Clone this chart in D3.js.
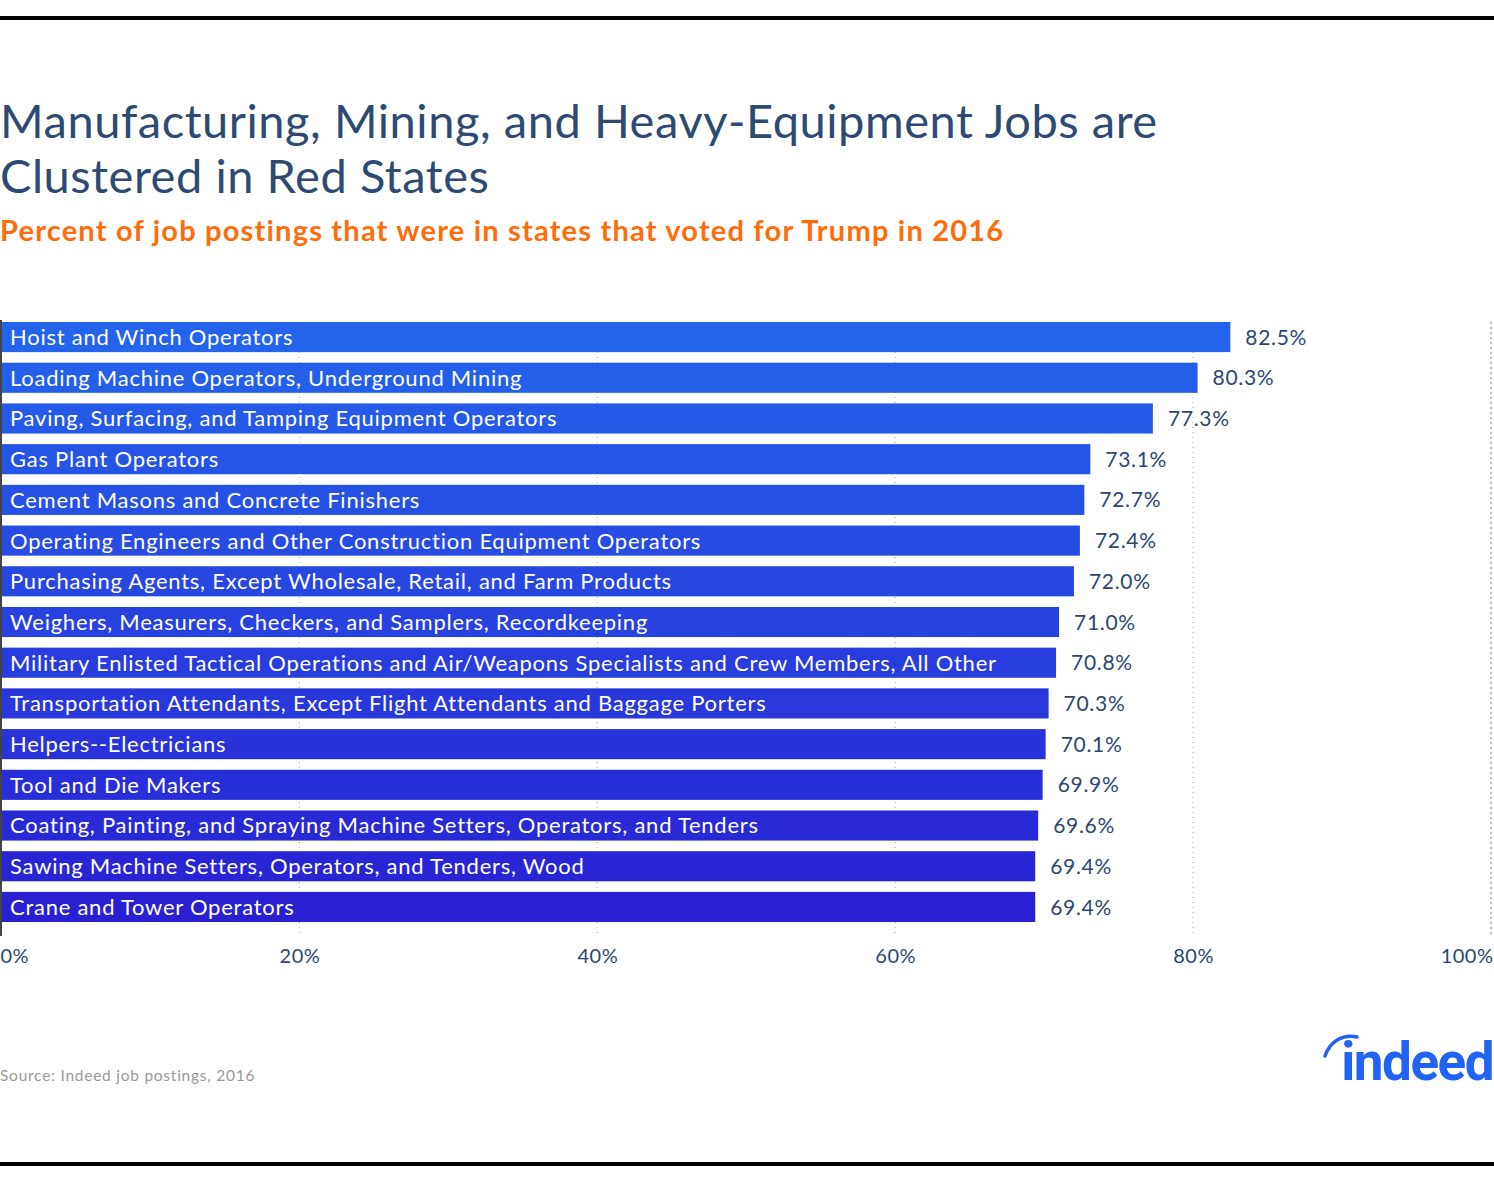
<!DOCTYPE html>
<html><head><meta charset="utf-8">
<script src="https://cdn.jsdelivr.net/npm/d3@7"></script>
<style>body{margin:0;background:#fff;}svg{display:block;}</style>
</head><body>
<script>
const categories = [
  "Hoist and Winch Operators",
  "Loading Machine Operators, Underground Mining",
  "Paving, Surfacing, and Tamping Equipment Operators",
  "Gas Plant Operators",
  "Cement Masons and Concrete Finishers",
  "Operating Engineers and Other Construction Equipment Operators",
  "Purchasing Agents, Except Wholesale, Retail, and Farm Products",
  "Weighers, Measurers, Checkers, and Samplers, Recordkeeping",
  "Military Enlisted Tactical Operations and Air/Weapons Specialists and Crew Members, All Other",
  "Transportation Attendants, Except Flight Attendants and Baggage Porters",
  "Helpers--Electricians",
  "Tool and Die Makers",
  "Coating, Painting, and Spraying Machine Setters, Operators, and Tenders",
  "Sawing Machine Setters, Operators, and Tenders, Wood",
  "Crane and Tower Operators"
];
const values = [82.5, 80.3, 77.3, 73.1, 72.7, 72.4, 72.0, 71.0, 70.8, 70.3, 70.1, 69.9, 69.6, 69.4, 69.4];
const tickValues = [0, 20, 40, 60, 80, 100];
const tickLabels = ["0%", "20%", "40%", "60%", "80%", "100%"];

const W = 1494, H = 1183;
const svg = d3.select("body").append("svg").attr("width", W).attr("height", H);
const font = "Lato, 'Noto Sans', sans-serif";
const navy = "#2c4670";

// frame lines
svg.append("rect").attr("x",0).attr("y",16).attr("width",W).attr("height",4).attr("fill","#000");
svg.append("rect").attr("x",0).attr("y",1162).attr("width",W).attr("height",4).attr("fill","#000");

// titles
svg.append("text").attr("x",0).attr("y",138).attr("font-family",font).attr("font-size",47).attr("font-weight",400)
  .attr("letter-spacing",0.55).attr("fill","#2e4a72").text("Manufacturing, Mining, and Heavy-Equipment Jobs are");
svg.append("text").attr("x",0).attr("y",193).attr("font-family",font).attr("font-size",47).attr("font-weight",400)
  .attr("letter-spacing",0.55).attr("fill","#2e4a72").text("Clustered in Red States");
svg.append("text").attr("x",0).attr("y",241).attr("font-family",font).attr("font-size",29).attr("font-weight",700)
  .attr("letter-spacing",1.2).attr("fill","#ff6c0a").text("Percent of job postings that were in states that voted for Trump in 2016");

const x = d3.scaleLinear().domain([0, 100]).range([1.5, 1491]);
const y = d3.scaleBand().domain(categories).range([316.7, 927.3]).paddingInner(0.26).paddingOuter(0.13);
const color = d3.interpolateRgb("#2464ec", "#2a20d2");

// gridlines
const grid = svg.append("g");
grid.selectAll("line").data(tickValues.filter(d => d > 0)).join("line")
  .attr("x1", d => x(d)).attr("x2", d => x(d))
  .attr("y1", 322).attr("y2", 936)
  .attr("stroke", "#b8b8b8")
  .attr("stroke-width", d => d === 100 ? 2 : 1.2)
  .attr("stroke-dasharray", d => d === 100 ? "2,3" : "1,4");

// bars
const bars = svg.append("g");
bars.selectAll("rect").data(categories).join("rect")
  .attr("x", x(0)).attr("y", d => y(d))
  .attr("width", (d,i) => x(values[i]) - x(0))
  .attr("height", y.bandwidth())
  .attr("fill", (d,i) => color(i / (categories.length - 1)));

bars.selectAll("text.cat").data(categories).join("text").attr("class","cat")
  .attr("x", 10).attr("y", d => y(d) + y.bandwidth()/2)
  .attr("dy", "0.36em").attr("font-family", font).attr("font-size", 22)
  .attr("letter-spacing", 0.75).attr("fill", "#fff").text(d => d);

bars.selectAll("text.val").data(categories).join("text").attr("class","val")
  .attr("x", (d,i) => x(values[i]) + 15).attr("y", d => y(d) + y.bandwidth()/2)
  .attr("dy", "0.36em").attr("font-family", font).attr("font-size", 21)
  .attr("letter-spacing", 0.7).attr("fill", navy).text((d,i) => values[i].toFixed(1) + "%");

// left axis line
svg.append("line").attr("x1",1).attr("x2",1).attr("y1",320).attr("y2",936)
  .attr("stroke","#444").attr("stroke-width",2);

// x axis
const xAxis = d3.axisBottom(x).tickValues(tickValues).tickSize(0)
  .tickFormat((d,i) => tickLabels[i]);
const ax = svg.append("g").attr("transform","translate(0,946)").call(xAxis);
ax.select(".domain").remove();
ax.selectAll("text").attr("font-family", font).attr("font-size", 20).attr("fill", navy)
  .attr("letter-spacing", 0.5)
  .attr("text-anchor", (d,i) => i === 0 ? "start" : (i === tickValues.length-1 ? "end" : "middle"))
  .attr("x", (d,i) => i === 0 ? -1.5 : (i === tickValues.length-1 ? 2 : 0));

// source
svg.append("text").attr("x",0).attr("y",1081).attr("font-family",font).attr("font-size",15.5)
  .attr("letter-spacing",0.75).attr("fill","#999").text("Source: Indeed job postings, 2016");

// indeed logo
svg.append("text").attr("x",1493).attr("y",1080).attr("text-anchor","end")
  .attr("font-family","Roboto, Lato, sans-serif").attr("font-size",53).attr("font-weight",700)
  .attr("fill","#2164f3").attr("letter-spacing",-1.5).text("indeed");
svg.append("path").attr("d","M1325,1056 C1330,1041 1343,1034 1357,1037")
  .attr("fill","none").attr("stroke","#2164f3").attr("stroke-width",3.5).attr("stroke-linecap","round");
</script>
</body></html>
